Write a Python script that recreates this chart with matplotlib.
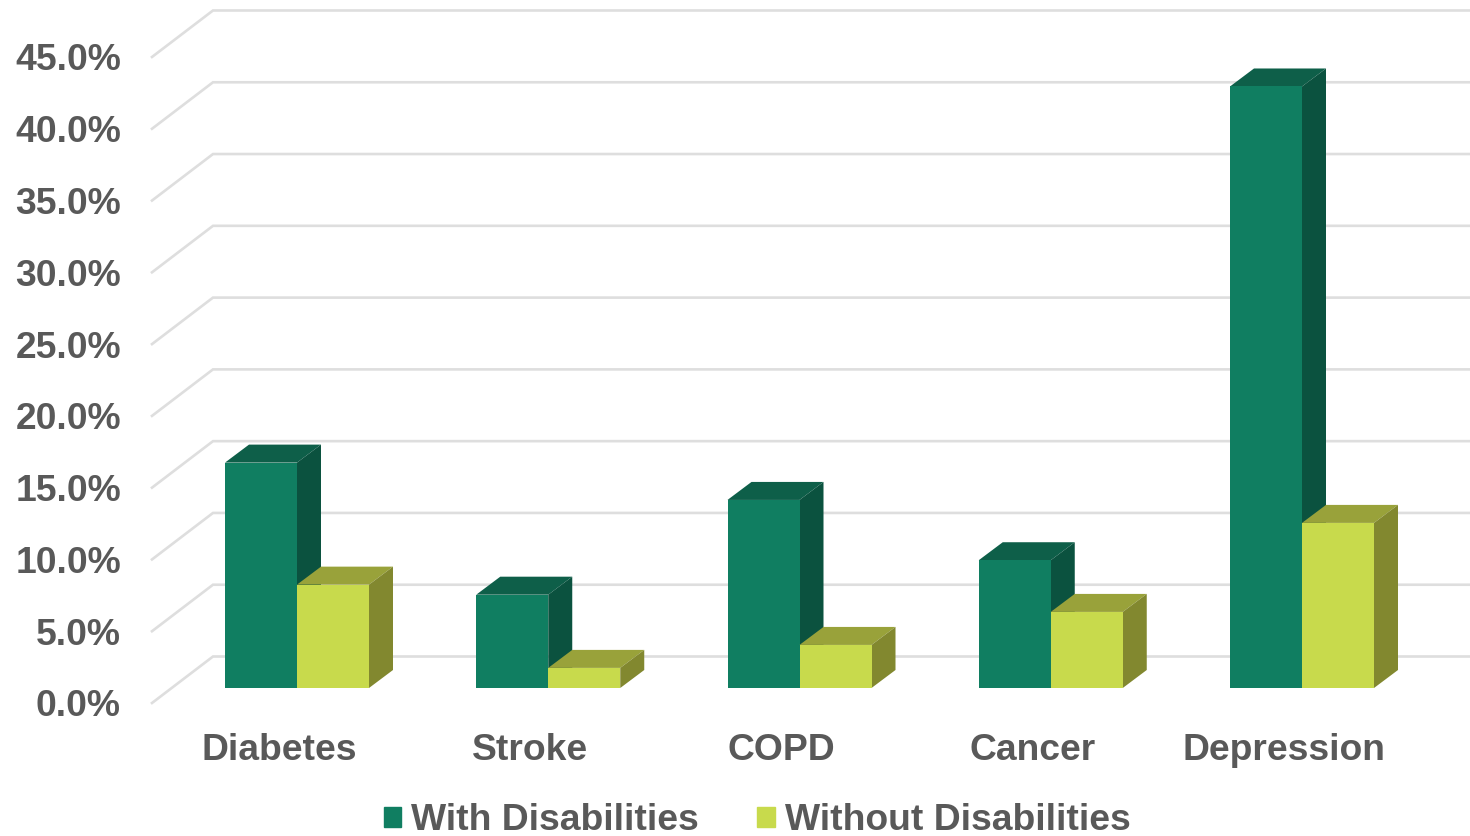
import numpy as np
import matplotlib
matplotlib.use("Agg")
import matplotlib.pyplot as plt
from matplotlib.patches import Patch, Polygon

# Prevalence of chronic conditions, percent
categories = ["Diabetes", "Stroke", "COPD", "Cancer", "Depression"]
with_disabilities = [15.7, 6.5, 13.1, 8.9, 41.9]
without_disabilities = [7.2, 1.4, 3.0, 5.3, 11.5]
tick_values = [0, 5, 10, 15, 20, 25, 30, 35, 40, 45]

GREEN = ("#107E61", "#0E5F49", "#0B523F")   # front, top, side
LIME = ("#C8DA4C", "#99A23A", "#82882F")
GRID = "#DEDEDE"
TEXT = "#595959"
FONT = 26.8

# one x unit is one category, one y unit is one percent
PX_X = 251.25
PX_Y = 14.356
BAR_W = 72 / PX_X
DEPTH_X = 24 / PX_X
DEPTH_Y = 18 / PX_Y

plt.rcParams["font.family"] = ["Liberation Sans", "DejaVu Sans"]

fig = plt.figure(figsize=(14.7, 8.36), dpi=100)
ax = fig.add_axes([0, 0, 1, 1])
ax.set_xlim(-297 / PX_X, (1470 - 297) / PX_X)
ax.set_ylim(-(836 - 688) / PX_Y, 688 / PX_Y)
ax.axis("off")


def bar_3d(left, value, colors, z):
    # front face from the axes, then the top and right side as skewed faces
    ax.bar(left, value, width=BAR_W, align="edge", color=colors[0], zorder=z + 0.2)
    top = [(left, value), (left + BAR_W, value),
           (left + BAR_W + DEPTH_X, value + DEPTH_Y), (left + DEPTH_X, value + DEPTH_Y)]
    side = [(left + BAR_W, 0), (left + BAR_W + DEPTH_X, DEPTH_Y),
            (left + BAR_W + DEPTH_X, value + DEPTH_Y), (left + BAR_W, value)]
    ax.add_patch(Polygon(top, closed=True, color=colors[1], lw=0, zorder=z))
    ax.add_patch(Polygon(side, closed=True, color=colors[2], lw=0, zorder=z + 0.1))


# back wall lines with the short floor diagonal on the left
x_front = (152 - 297) / PX_X
x_back = (213 - 297) / PX_X
x_end = (1470 - 297) / PX_X
for v in tick_values:
    y_back = v + (688 - 656.5) / PX_Y
    y_front = v - 15 / PX_Y
    ax.plot([x_front, x_back, x_end], [y_front, y_back, y_back],
            color=GRID, lw=1.9, zorder=1, solid_joinstyle="miter")
    ax.text((121 - 297) / PX_X, y_front, f"{v:.1f}%", ha="right", va="center_baseline",
            fontsize=FONT, fontweight="bold", color=TEXT)

for i, name in enumerate(categories):
    bar_3d(i - BAR_W, with_disabilities[i], GREEN, 2 + i)
    bar_3d(i, without_disabilities[i], LIME, 2.5 + i)
    ax.text(i - 18 / PX_X, -58.5 / PX_Y, name, ha="center", va="center_baseline",
            fontsize=FONT, fontweight="bold", color=TEXT)

handles = [Patch(color=GREEN[0], label="With Disabilities"),
           Patch(color=LIME[0], label="Without Disabilities")]
ax.legend(handles=handles, ncol=2, frameon=False, loc="center",
          bbox_to_anchor=(757 / 1470, 1 - 820.5 / 836), prop={"size": FONT, "weight": "bold"},
          labelcolor=TEXT, handlelength=0.47, handleheight=0.47, handletextpad=0.26,
          columnspacing=1.58, borderpad=0, borderaxespad=0)

fig.savefig("out.png", dpi=100)
